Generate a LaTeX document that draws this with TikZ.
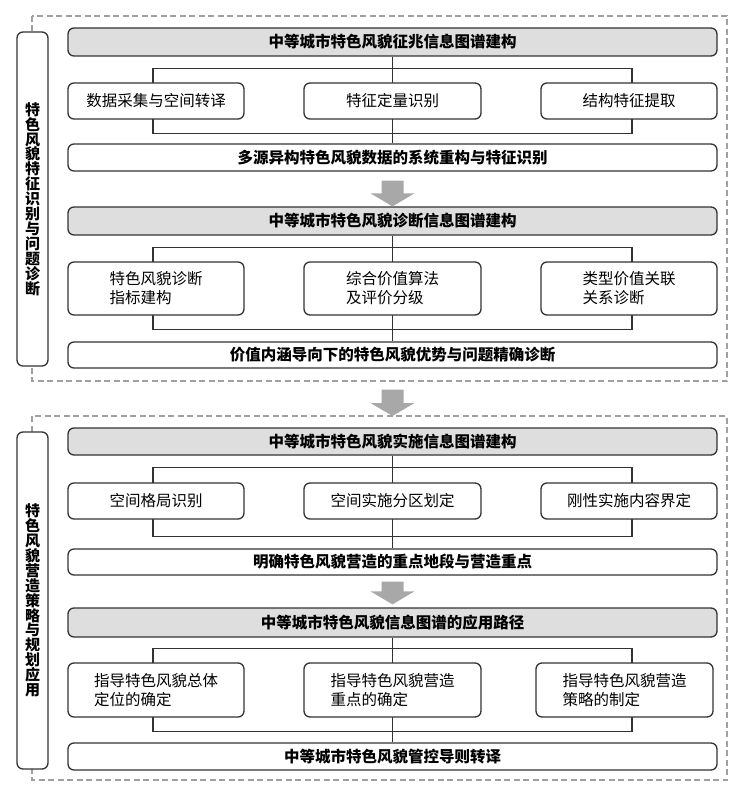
\documentclass[tikz,border=0pt]{standalone}
\usepackage{fontspec}
\setmainfont{Noto Sans CJK SC}
\usetikzlibrary{calc,backgrounds}
\definecolor{edge}{HTML}{333333}
\definecolor{hdrfill}{HTML}{DEDEDE}
\definecolor{arrfill}{HTML}{A8A8A8}
\definecolor{dashc}{HTML}{A0A0A0}
\tikzset{
  basebox/.style={draw=edge, line width=1.3pt, rounded corners=6pt, inner sep=0pt, fill=white},
  hdr/.style={basebox, fill=hdrfill, minimum width=649pt, minimum height=28pt, font=\fontsize{15.5}{17}\selectfont\bfseries},
  sumbox/.style={basebox, minimum width=649pt, minimum height=27pt, font=\fontsize{15.5}{17}\selectfont\bfseries},
  midbox/.style={basebox, minimum width=176pt, font=\fontsize{15.5}{19}\selectfont, align=left},
  sidebox/.style={basebox, minimum width=31pt, font=\fontsize{15}{14.9}\selectfont\bfseries, align=center},
  conn/.style={draw=edge, line width=1.2pt},
  frame/.style={draw=dashc, line width=1.3pt, dash pattern=on 6pt off 3.5pt},
}
\newcommand\grayarrow[2]{%
  \fill[arrfill] ($(#1)+(-11,0)$) -- ($(#1)+(11,0)$) -- ($(#2)+(11,-13)$) -- ($(#2)+(22,-13)$) -- (#2) -- ($(#2)+(-22,-13)$) -- ($(#2)+(-11,-13)$) -- cycle;}
\begin{document}
\begin{tikzpicture}[x=1pt,y=-1pt]
\useasboundingbox (0,0) rectangle (743,794);
% dashed frames
\draw[frame] (32,16) coordinate (f1a) rectangle (727,381) coordinate (f1b);
\draw[frame] (32,416) coordinate (f2a) rectangle (727,780) coordinate (f2b);
% side labels
\node[sidebox, minimum height=334pt] (L1) at (32.5,199) {特\\色\\风\\貌\\特\\征\\识\\别\\与\\问\\题\\诊\\断};
\node[sidebox, minimum height=337pt] (L2) at (32.5,600.5) {特\\色\\风\\貌\\营\\造\\策\\略\\与\\规\\划\\应\\用};

% ---------- section 1 ----------
\node[hdr] (h1) at (392.5,42) {中等城市特色风貌征兆信息图谱建构};
\node[sumbox] (s1) at (392.5,157.5) {多源异构特色风貌数据的系统重构与特征识别};
\node[midbox, minimum height=36pt, align=center] (m11) at (156,101) {数据采集与空间转译};
\node[midbox, minimum height=36pt, minimum width=177pt, align=center] (m12) at (392.5,101) {特征定量识别};
\node[midbox, minimum height=36pt, align=center] (m13) at (629,101) {结构特征提取};

\node[hdr] (h2) at (392.5,221) {中等城市特色风貌诊断信息图谱建构};
\node[sumbox, minimum height=26pt] (s2) at (392.5,355) {价值内涵导向下的特色风貌优势与问题精确诊断};
\node[midbox, minimum height=53pt] (m21) at (156,288.5) {特色风貌诊断\\指标建构};
\node[midbox, minimum height=53pt, minimum width=177pt] (m22) at (392.5,288.5) {综合价值算法\\及评价分级};
\node[midbox, minimum height=53pt] (m23) at (629,288.5) {类型价值关联\\关系诊断};

% ---------- section 2 ----------
\node[hdr, minimum height=27pt] (h3) at (392.5,441.5) {中等城市特色风貌实施信息图谱建构};
\node[sumbox, minimum height=26pt] (s3) at (392.5,562) {明确特色风貌营造的重点地段与营造重点};
\node[midbox, minimum height=36pt, align=center] (m31) at (156,501) {空间格局识别};
\node[midbox, minimum height=36pt, minimum width=177pt, align=center] (m32) at (392.5,501) {空间实施分区划定};
\node[midbox, minimum height=36pt, align=center] (m33) at (629,501) {刚性实施内容界定};

\node[hdr, minimum height=29pt] (h4) at (392.5,622.5) {中等城市特色风貌信息图谱的应用路径};
\node[sumbox] (s4) at (392.5,756.5) {中等城市特色风貌管控导则转译};
\node[midbox, minimum height=54pt] (m41) at (156,690) {指导特色风貌总体\\定位的确定};
\node[midbox, minimum height=54pt, minimum width=177pt] (m42) at (392.5,690) {指导特色风貌营造\\重点的确定};
\node[midbox, minimum height=54pt, minimum width=177pt] (m43) at (624.5,690) {指导特色风貌营造\\策略的制定};

% connectors behind boxes
\begin{scope}[on background layer]
\draw[conn] (h1.south) -- (s1.north);
\draw[conn] ($(m11.north)+(-3,-14)$) rectangle ($(m13.south)+(3,14)$);
\draw[conn] (h2.south) -- (s2.north);
\draw[conn] ($(m21.north)+(-3,-14)$) rectangle ($(m23.south)+(3,14)$);
\draw[conn] (h3.south) -- (s3.north);
\draw[conn] ($(m31.north)+(-3,-15)$) rectangle ($(m33.south)+(3,17)$);
\draw[conn] (h4.south) -- (s4.north);
\draw[conn] ($(m41.north)+(-3,-14)$) rectangle ($(m43.south)+(7.5,14)$);
\end{scope}

% gray block arrows
\coordinate (a1s) at ($(s1.south)+(0,9)$);
\grayarrow{a1s}{h2.north}
\coordinate (a2s) at ($(s2.south)+(0,21)$);
\coordinate (a2e) at (f2a -| s2.south);
\grayarrow{a2s}{a2e}
\coordinate (a3s) at ($(s3.south)+(0,6)$);
\coordinate (a3e) at ($(h4.north)+(0,-3)$);
\grayarrow{a3s}{a3e}
\end{tikzpicture}
\end{document}
